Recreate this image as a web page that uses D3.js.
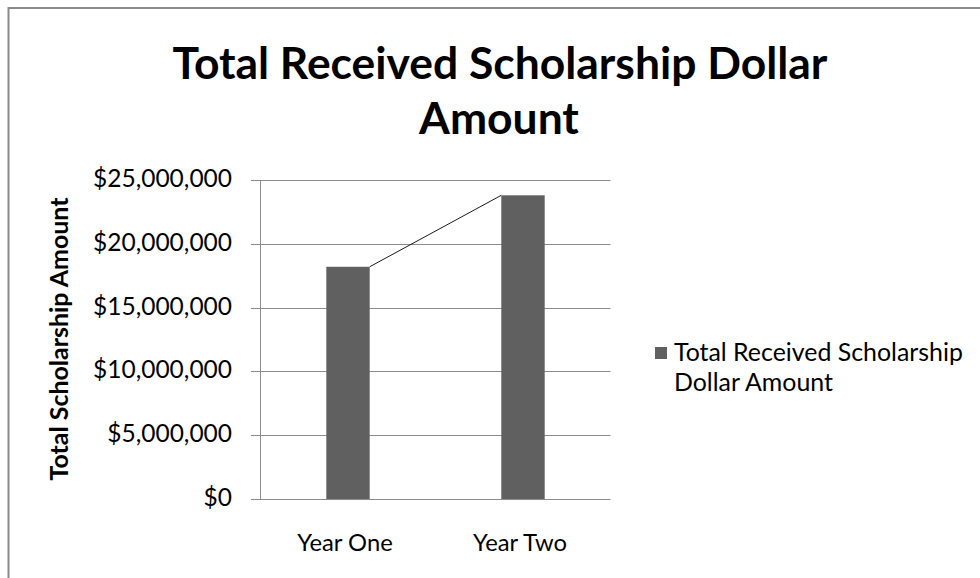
<!DOCTYPE html>
<html><head><meta charset="utf-8">
<script src="https://cdn.jsdelivr.net/npm/d3@7"></script>
<style>
html,body{margin:0;padding:0;background:#fff;}
svg{display:block;}
text{font-family:Lato,"Open Sans",sans-serif;fill:#000;}
</style></head>
<body>
<svg id="c" width="980" height="578"></svg>
<script>
const categories = ["Year One", "Year Two"];
const values = [18200000, 23800000];
const yTicks = [0, 5000000, 10000000, 15000000, 20000000, 25000000];
const titleLines = ["Total Received Scholarship Dollar", "Amount"];
const yTitle = "Total Scholarship Amount";
const legendLines = ["Total Received Scholarship", "Dollar Amount"];

const svg = d3.select("#c");
// outer frame
svg.append("rect").attr("x", 8.5).attr("y", 8).attr("width", 990).attr("height", 600)
  .attr("fill", "#fff").attr("stroke", "#8a8a8a").attr("stroke-width", 2);

function fit(sel, target) {
  const w = sel.node().getComputedTextLength();
  const fs = parseFloat(sel.attr("font-size"));
  sel.attr("font-size", fs * target / w);
}

const plot = {left: 260.5, right: 610.5, top: 180, bottom: 499};
const x = d3.scaleBand().domain(categories).range([plot.left, plot.right]).paddingInner(0.752).paddingOuter(0.376);
const y = d3.scaleLinear().domain([0, 25000000]).range([plot.bottom, plot.top]);

// gridlines
svg.append("g").selectAll("line").data(yTicks).join("line")
  .attr("x1", 251).attr("x2", plot.right)
  .attr("y1", d => Math.round(y(d)) + 0.5).attr("y2", d => Math.round(y(d)) + 0.5)
  .attr("stroke", "#8c8c8c").attr("stroke-width", 1);
// y axis line
svg.append("line").attr("x1", plot.left).attr("x2", plot.left)
  .attr("y1", y(25000000)).attr("y2", y(0)).attr("stroke", "#8c8c8c");

// y tick labels
const fmt = d => "$" + d3.format(",")(d);
const yl = svg.append("g").selectAll("text").data(yTicks).join("text")
  .attr("x", 232).attr("y", d => y(d) + 7)
  .attr("text-anchor", "end").attr("font-size", 20).attr("fill", "#000")
  .text(fmt);
{
  const n = yl.filter(d => d === 25000000);
  const w = n.node().getComputedTextLength();
  yl.attr("font-size", 20 * 139 / w);
}

// bars
svg.append("g").selectAll("rect").data(values).join("rect")
  .attr("x", (d, i) => x(categories[i]))
  .attr("width", x.bandwidth())
  .attr("y", d => y(d)).attr("height", d => y(0) - y(d))
  .attr("fill", "#606060");

// series line connecting bar tops
svg.append("line")
  .attr("x1", x(categories[0]) + x.bandwidth()).attr("y1", y(values[0]))
  .attr("x2", x(categories[1])).attr("y2", y(values[1]))
  .attr("stroke", "#1a1a1a").attr("stroke-width", 1);

// x labels
const xl = svg.append("g").selectAll("text").data(categories).join("text")
  .attr("x", d => x(d) + x.bandwidth() / 2 - 3).attr("y", 551)
  .attr("text-anchor", "middle").attr("font-size", 20).text(d => d);
{
  const w = xl.filter((d, i) => i === 0).node().getComputedTextLength();
  xl.attr("font-size", 20 * 95.5 / w);
}

// title
const t1 = svg.append("text").attr("x", 500).attr("y", 79).attr("text-anchor", "middle")
  .attr("font-weight", "bold").attr("font-size", 36).text(titleLines[0]);
fit(t1, 655);
const t2 = svg.append("text").attr("x", 499).attr("y", 134).attr("text-anchor", "middle")
  .attr("font-weight", "bold").attr("font-size", t1.attr("font-size")).text(titleLines[1]);

// y title
const yt = svg.append("text").attr("transform", "translate(68,339) rotate(-90)")
  .attr("text-anchor", "middle").attr("font-weight", "bold").attr("font-size", 20).text(yTitle);
fit(yt, 283);

// legend
svg.append("rect").attr("x", 655).attr("y", 347).attr("width", 12).attr("height", 12).attr("fill", "#606060");
const lg = svg.append("g").selectAll("text").data(legendLines).join("text")
  .attr("x", 674).attr("y", (d, i) => 361 + i * 30).attr("font-size", 20).text(d => d);
{
  const w = lg.filter((d, i) => i === 0).node().getComputedTextLength();
  lg.attr("font-size", 20 * 289 / w);
}
</script>
</body></html>
